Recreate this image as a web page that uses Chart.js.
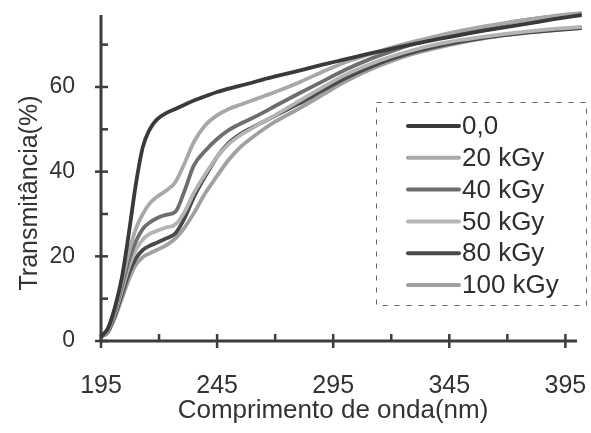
<!DOCTYPE html>
<html>
<head>
<meta charset="utf-8">
<script src="https://cdn.jsdelivr.net/npm/chart.js@4.4.1/dist/chart.umd.min.js"></script>
<style>
html,body{margin:0;padding:0;background:#fff;}
#wrap{width:591px;height:433px;position:relative;}
</style>
</head>
<body>
<div id="wrap"><canvas id="c" width="591" height="433"></canvas></div>
<script>
const wavelengths = [195,198,201,204,207,210,213,216,219,223,227,231,235,240,245,250,255,260,265,270,280,290,300,310,320,330,340,350,360,370,380,390,402];
const series0  = [1,3,8,15,25.5,37,45.8,50,52.3,53.8,54.8,55.8,56.8,57.8,58.8,59.6,60.3,61,61.8,62.5,63.8,65.2,66.5,67.8,69,70.2,71.3,72.3,73.3,74.2,75.1,76,77];
const series20 = [1,3,7.5,14,21,26.5,30,32.5,34,35.5,37.5,42,47,51,53.3,54.8,55.8,56.8,57.8,58.8,61,63.5,65.8,67.6,69.3,70.8,72.1,73.3,74.3,75.2,76,76.8,77.5];
const series40 = [1,2.8,7,13,19,23.5,26.5,28,29,29.8,30.5,35.5,41.5,45,47.7,49.8,51.3,52.6,54,55.5,58.4,61.2,64,66.4,68.4,70.2,71.7,73,74.1,75.1,76,76.7,77.3];
const series50 = [1,2.5,6.5,12,17.5,21.5,24,25.3,26,26.8,27.5,30.5,35,39.5,43.5,46.5,48.6,50.2,51.8,53.3,56.6,59.8,62.8,65.2,67.2,68.8,70.1,71.1,71.9,72.6,73.2,73.7,74.2];
const series80 = [1,2.3,6,11,16,19.5,21.5,22.5,23.2,24.2,25.4,29,34,39,43.5,46.8,48.9,50.4,51.8,53.2,56,59,62,64.5,66.6,68.3,69.6,70.7,71.6,72.3,72.9,73.4,73.9];
const series100= [1,2,5.5,10,14.5,18,19.8,20.7,21.5,22.6,24.2,26.8,30.2,35,39,42.8,45.8,48,50,51.8,54.8,58,61.2,63.9,66.1,67.9,69.3,70.5,71.5,72.3,73,73.5,74.1];
const seriesLabels = ['0,0','20 kGy','40 kGy','50 kGy','80 kGy','100 kGy'];
const seriesColors = ['#3a3a3a','#a8a8a8','#6e6e6e','#b4b4b4','#4a4a4a','#a0a0a0'];
const xTicks = [195,220,245,270,295,320,345,370,395];
const xLabelTicks = [195,245,295,345,395];
const yTicks = [0,10,20,30,40,50,60,70];
const yLabelTicks = [0,20,40,60];
const xTitle = 'Comprimento de onda(nm)';
const yTitle = 'Transmitância(%)';

const allSeries = [series0,series20,series40,series50,series80,series100];
const FONT = 'Liberation Sans, Arial, sans-serif';
const AX = '#3c3c3c';

const datasets = allSeries.map((s,i)=>({
  label: seriesLabels[i],
  data: wavelengths.map((w,j)=>({x:w,y:s[j]})),
  borderColor: seriesColors[i],
  borderWidth: 3.8,
  pointRadius: 0,
  fill: false,
  cubicInterpolationMode: 'monotone',
  clip: false
}));

const tickPlugin = {
  id:'ticks2',
  afterDatasetsDraw(chart){
    const ctx = chart.ctx, xs = chart.scales.x, ys = chart.scales.y;
    ctx.save();
    ctx.strokeStyle = AX; ctx.lineWidth = 3;
    const y0 = ys.getPixelForValue(0);
    const x0 = xs.getPixelForValue(195);
    ctx.beginPath();
    ctx.moveTo(x0, ys.getPixelForValue(ys.max)); ctx.lineTo(x0, y0);
    ctx.lineTo(xs.getPixelForValue(xs.max), y0);
    ctx.stroke();
    ctx.lineWidth = 2.5;
    yTicks.forEach(v=>{
      const p = ys.getPixelForValue(v);
      const major = yLabelTicks.includes(v);
      ctx.beginPath(); ctx.moveTo(x0-(major?6:0), p); ctx.lineTo(x0+7, p); ctx.stroke();
    });
    xTicks.forEach(v=>{
      const p = xs.getPixelForValue(v);
      const major = xLabelTicks.includes(v);
      ctx.beginPath(); ctx.moveTo(p, y0-7); ctx.lineTo(p, y0+(major?7:0)); ctx.stroke();
    });
    ctx.fillStyle = '#333';
    ctx.textAlign = 'center'; ctx.textBaseline = 'middle';
    ctx.font = '26px ' + FONT;
    ctx.fillText(xTitle, 333, 411);
    ctx.font = '25px ' + FONT;
    ctx.translate(30, 193); ctx.rotate(-Math.PI/2);
    ctx.fillText(yTitle, 0, 0);
    ctx.restore();
  }
};

const legendPlugin = {
  id:'legend2',
  afterDraw(chart){
    const ctx = chart.ctx;
    ctx.save();
    ctx.strokeStyle = '#666'; ctx.lineWidth = 1; ctx.setLineDash([5,7]);
    ctx.strokeRect(376.5, 102.5, 210, 203);
    ctx.setLineDash([]);
    ctx.font = '26px ' + FONT;
    ctx.textBaseline = 'middle';
    chart.data.datasets.forEach((d,i)=>{
      const y = 126 + i*31.8;
      ctx.strokeStyle = d.borderColor; ctx.lineWidth = 4; ctx.lineCap='round';
      ctx.beginPath(); ctx.moveTo(408, y); ctx.lineTo(459, y); ctx.stroke();
      ctx.fillStyle = '#2e2e2e';
      ctx.fillText(d.label, 462, y+1);
    });
    ctx.restore();
  }
};

new Chart(document.getElementById('c'), {
  type:'line',
  data:{datasets},
  plugins:[tickPlugin, legendPlugin],
  options:{
    responsive:false,
    animation:false,
    layout:{padding:{left:0,right:14,top:15,bottom:0}},
    plugins:{legend:{display:false}, tooltip:{enabled:false}},
    scales:{
      x:{
        type:'linear', min:195, max:400,
        afterBuildTicks(s){ s.ticks = xTicks.map(v=>({value:v})); },
        afterFit(s){ s.height = 92; s.paddingLeft = 0; s.paddingRight = 0; },
        border:{display:false},
        grid:{display:false},
        ticks:{
          autoSkip:false, maxRotation:0,
          padding:22,
          color:'#333', font:{family:FONT, size:25},
          callback:(v)=> xLabelTicks.includes(v) ? String(v) : ''
        },
        title:{display:false}
      },
      y:{
        type:'linear', min:0, max:77,
        afterBuildTicks(s){ s.ticks = yTicks.map(v=>({value:v})); },
        afterFit(s){ s.width = 101; s.paddingTop = 0; s.paddingBottom = 0; },
        border:{display:false},
        grid:{display:false},
        ticks:{
          autoSkip:false, padding:18,
          color:'#333', font:{family:FONT, size:23},
          callback:(v)=> yLabelTicks.includes(v) ? String(v) : ''
        },
        title:{display:false}
      }
    }
  }
});
</script>
</body>
</html>
